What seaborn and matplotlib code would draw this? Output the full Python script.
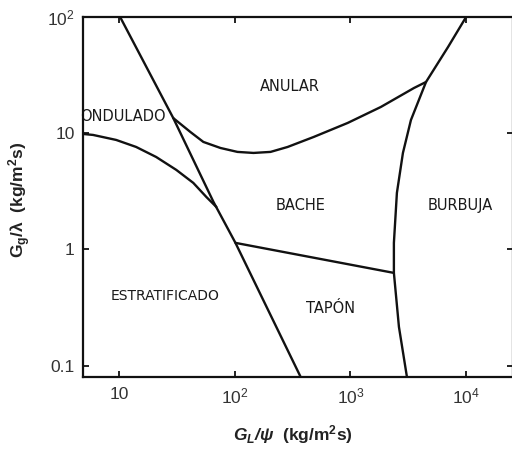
import numpy as np
import pandas as pd
import seaborn as sns
import matplotlib
matplotlib.use("Agg")
import matplotlib.pyplot as plt
from matplotlib.ticker import FixedLocator, FixedFormatter, NullLocator

# ---- data (read from the reference Baker map) ----
# stratified / wavy boundary
strat_x = [4.87, 5.95, 9.42, 14.04, 20.9, 31.2, 43.8, 56.8, 69.4]
strat_y = [9.86, 9.67, 8.76, 7.62, 6.25, 4.84, 3.74, 2.83, 2.32]
# stratified-wavy / slug-plug diagonal boundary
diag_x = [10.2, 29.4, 65.4, 101.4, 371.6]
diag_y = [100.0, 13.5, 2.57, 1.14, 0.08]
# annular boundary
annular_x = [29.4, 41.3, 53.5, 75.2, 105.5, 145.3, 204, 286.5, 481.6, 949, 1835, 3548, 4510]
annular_y = [13.5, 10.26, 8.42, 7.47, 6.91, 6.77, 6.91, 7.62, 9.29, 12.27, 16.83, 24.5, 27.6]
# bubble boundary
bubble_x = [10020, 6995, 4510, 3341, 2848, 2526, 2379, 2379, 2630, 3085]
bubble_y = [100.0, 55.2, 27.6, 13.0, 6.77, 3.07, 1.14, 0.629, 0.216, 0.08]
# slug / plug boundary
slugplug_x = [101.4, 2379]
slugplug_y = [1.14, 0.629]

region_names = ["ANULAR", "ONDULADO", "BACHE", "BURBUJA", "ESTRATIFICADO", "TAPÓN"]
region_x = [298, 10.8, 371.6, 8890, 25.1, 676]
region_y = [25.0, 13.8, 2.37, 2.37, 0.399, 0.309]
region_size = [10.5, 10.5, 10.5, 10.5, 10.0, 10.5]

xtick_vals = [10, 100, 1000, 10000]
xtick_labels = ["10", r"$10^2$", r"$10^3$", r"$10^4$"]
ytick_vals = [0.1, 1, 10, 100]
ytick_labels = ["0.1", "1", "10", r"$10^2$"]

# ---- style ----
sns.set_theme(style="white")
plt.rcParams["font.family"] = ["Liberation Sans", "DejaVu Sans"]
plt.rcParams["mathtext.fontset"] = "custom"
plt.rcParams["mathtext.rm"] = "Liberation Sans"
plt.rcParams["mathtext.it"] = "Liberation Sans:italic"
plt.rcParams["mathtext.bf"] = "Liberation Sans:bold"
plt.rcParams["mathtext.bfit"] = "Liberation Sans:bold:italic"

fig = plt.figure(figsize=(5.12, 4.49), dpi=100)
W, H = 512, 449
ax = fig.add_axes([83 / W, 1 - 377 / H, (513 - 83) / W, (377 - 17) / H])
ax.set_xscale("log")
ax.set_yscale("log")

line_kw = dict(color="#111111", linewidth=1.7, sort=False, estimator=None, ax=ax)
for xs, ys in [(strat_x, strat_y), (diag_x, diag_y), (annular_x, annular_y),
               (bubble_x, bubble_y), (slugplug_x, slugplug_y)]:
    df = pd.DataFrame({"x": xs, "y": ys})
    sns.lineplot(data=df, x="x", y="y", **line_kw)

ax.set_xlim(4.87, 25500)
ax.set_ylim(0.080, 100)

for name, x, y, s in zip(region_names, region_x, region_y, region_size):
    ax.text(x, y, name, ha="center", va="center", fontsize=s,
            color="#1a1a1a", family=["DejaVu Sans"], zorder=1)

ax.xaxis.set_major_locator(FixedLocator(xtick_vals))
ax.xaxis.set_major_formatter(FixedFormatter(xtick_labels))
ax.yaxis.set_major_locator(FixedLocator(ytick_vals))
ax.yaxis.set_major_formatter(FixedFormatter(ytick_labels))
ax.xaxis.set_minor_locator(NullLocator())
ax.yaxis.set_minor_locator(NullLocator())

ax.tick_params(axis="both", which="major", direction="in", length=4.5, width=1.4,
               color="#222222", labelsize=12.5, labelcolor="#333333",
               top=True, right=True, bottom=True, left=True)
ax.tick_params(axis="x", pad=7)
ax.tick_params(axis="y", pad=6)

for sp in ax.spines.values():
    sp.set_visible(True)
    sp.set_linewidth(1.6)
    sp.set_color("#111111")
    sp.set_zorder(5)

ax.set_xlabel(r"$\mathbfit{G}_{\mathbfit{L}}\mathbfit{/\psi}$  $\mathbf{(kg/m^2s)}$",
              fontsize=12.5, color="#222222")
ax.set_ylabel(r"$\mathbf{G_g/λ\ \ (kg/m^2s)}$", fontsize=12.5, color="#222222")
ax.xaxis.set_label_coords((293 - 83) / 430, -(435 - 377) / 360)
ax.xaxis.label.set_va("center")
ax.yaxis.set_label_coords(-(83 - 20) / 430, (377 - 200) / 360)
ax.yaxis.label.set_va("center")

ax.set_facecolor("white")
fig.patch.set_facecolor("white")
fig.savefig("out.png", dpi=100)
